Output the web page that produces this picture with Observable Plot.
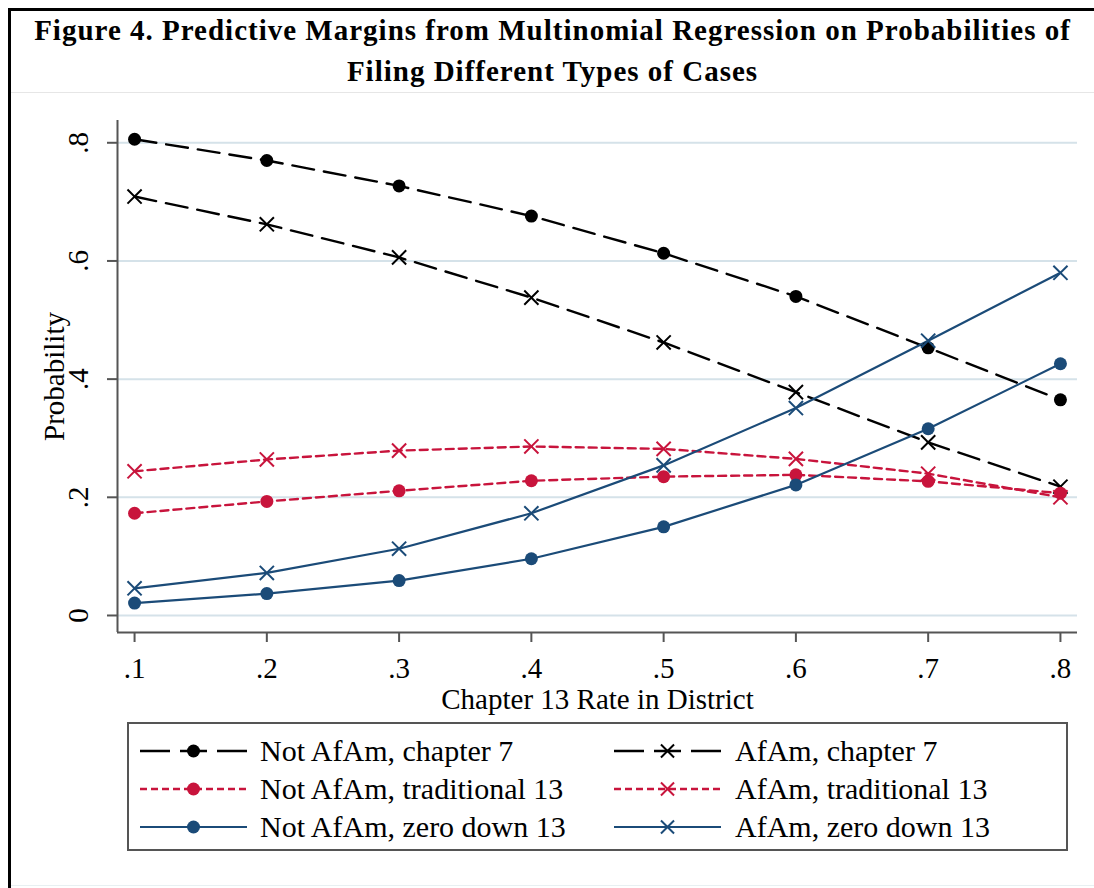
<!DOCTYPE html>
<html>
<head>
<meta charset="utf-8">
<script src="https://cdn.jsdelivr.net/npm/d3@7"></script>
<script src="https://cdn.jsdelivr.net/npm/@observablehq/plot@0.6"></script>
<style>
  html, body { margin: 0; padding: 0; background: #fff; }
  #wrap { position: relative; width: 1094px; height: 888px; overflow: hidden; font-family: "Liberation Serif", "Times New Roman", serif; color: #000; }
  #frame { position: absolute; left: 8px; top: 8px; right: -10px; bottom: -10px; border-left: 3px solid #000; border-top: 3px solid #000; }
  #sep { position: absolute; left: 11px; right: 0; top: 92px; height: 0; border-top: 1.5px solid #e6e6e6; }
  #bottomline { position: absolute; left: 11px; right: 0; top: 885px; height: 0; border-top: 1.5px solid #e8f0f2; }
  #title { position: absolute; left: 11px; width: 1083px; top: 10px; text-align: center; font-weight: bold; font-size: 29px; letter-spacing: 1px; line-height: 41px; white-space: nowrap; }
  #chart { position: absolute; left: 0; top: 95px; }
  #legend { position: absolute; left: 127px; top: 722px; width: 937px; height: 125px; border: 2px solid #555; }
  .item { position: absolute; display: flex; align-items: center; height: 36px; font-size: 30px; white-space: nowrap; }
  .item svg { display: block; }
</style>
</head>
<body>
<div id="wrap">
  <div id="frame"></div>
  <div id="sep"></div>
  <div id="bottomline"></div>
  <div id="title">Figure 4. Predictive Margins from Multinomial Regression on Probabilities of<br>Filing Different Types of Cases</div>
  <div id="chart"></div>
  <div id="legend"></div>
</div>
<script>
// ---- data ----
const rates = [0.1, 0.2, 0.3, 0.4, 0.5, 0.6, 0.7, 0.8];
const xTicks = [0.1, 0.2, 0.3, 0.4, 0.5, 0.6, 0.7, 0.8];
const yTicks = [0, 0.2, 0.4, 0.6, 0.8];
const seriesNames = [
  "Not AfAm, chapter 7",
  "AfAm, chapter 7",
  "Not AfAm, traditional 13",
  "AfAm, traditional 13",
  "Not AfAm, zero down 13",
  "AfAm, zero down 13"
];
const notAfAmCh7    = [0.806, 0.770, 0.727, 0.676, 0.613, 0.540, 0.453, 0.365];
const afAmCh7       = [0.709, 0.662, 0.606, 0.538, 0.462, 0.378, 0.293, 0.218];
const notAfAmTrad13 = [0.173, 0.193, 0.211, 0.228, 0.235, 0.238, 0.227, 0.207];
const afAmTrad13    = [0.244, 0.264, 0.279, 0.286, 0.282, 0.265, 0.240, 0.200];
const notAfAmZero13 = [0.021, 0.037, 0.059, 0.096, 0.150, 0.221, 0.316, 0.426];
const afAmZero13    = [0.046, 0.072, 0.113, 0.173, 0.254, 0.351, 0.465, 0.580];
const xLabel = "Chapter 13 Rate in District";
const yLabel = "Probability";

// ---- styles (separate from data) ----
const seriesValues = [notAfAmCh7, afAmCh7, notAfAmTrad13, afAmTrad13, notAfAmZero13, afAmZero13];
const styles = [
  {color: "#000000", dash: "22,10", legendDash: "30,10,27,10,30", symbol: "circle", width: 2.4},
  {color: "#000000", dash: "22,10", legendDash: "30,10,27,10,30", symbol: "times",  width: 2.4},
  {color: "#c8143c", dash: "8,5",   legendDash: "7,4", symbol: "circle", width: 2.4},
  {color: "#c8143c", dash: "8,5",   legendDash: "7,4", symbol: "times",  width: 2.4},
  {color: "#1b4b78", dash: null,    legendDash: null,  symbol: "circle", width: 2.2},
  {color: "#1b4b78", dash: null,    legendDash: null,  symbol: "times",  width: 2.2}
];

const rows = seriesNames.map((name, k) => rates.map((r, i) => ({series: name, x: r, y: seriesValues[k][i]})));

const fmt = d => d === 0 ? "0" : d3.format(".1f")(d).replace(/^0/, "");

const marks = [
  Plot.ruleY(yTicks, {stroke: "#d5e2e9", strokeWidth: 2}),
  Plot.ruleX([0.0871], {stroke: "#555", strokeWidth: 2}),
  Plot.ruleY([-0.0288], {stroke: "#555", strokeWidth: 2}),
  Plot.axisX({ticks: xTicks, tickFormat: fmt, tickSize: 10, tickPadding: 15, label: null, stroke: "#555", strokeWidth: 2, fill: "#000", fontSize: 29}),
  Plot.axisY({ticks: yTicks, tickFormat: fmt, tickSize: 10, tickPadding: 20, tickRotate: -90, label: null, stroke: "#555", strokeWidth: 2, fill: "#000", fontSize: 29}),
  Plot.text([xLabel], {text: d => d, frameAnchor: "bottom", dy: 67, fontSize: 29, fill: "#000", lineAnchor: "middle"}),
  Plot.text([yLabel], {text: d => d, frameAnchor: "left", dx: -63, rotate: -90, fontSize: 29, fill: "#000", lineAnchor: "middle", textAnchor: "middle"})
];

rows.forEach((data, k) => {
  const s = styles[k];
  marks.push(Plot.line(data, {x: "x", y: "y", stroke: s.color, strokeWidth: s.width, strokeDasharray: s.dash || undefined}));
});
rows.forEach((data, k) => {
  const s = styles[k];
  if (s.symbol === "circle") {
    marks.push(Plot.dot(data, {x: "x", y: "y", r: 6.5, fill: s.color, stroke: "none"}));
  } else {
    marks.push(Plot.dot(data, {x: "x", y: "y", r: 6.5, symbol: "times", stroke: s.color, strokeWidth: 2}));
  }
});

const chart = Plot.plot({
  width: 1094,
  height: 620,
  marginLeft: 117,
  marginRight: 17,
  marginTop: 25,
  marginBottom: 83,
  style: {fontFamily: '"Liberation Serif", "Times New Roman", serif', fontSize: "29px", background: "transparent", color: "#000"},
  x: {domain: [0.0871, 0.8129], axis: null},
  y: {domain: [-0.0288, 0.8377], axis: null},
  marks
});
document.getElementById("chart").appendChild(chart);

// ---- legend ----
const legend = document.getElementById("legend");
const legendRowsY = [27, 65, 103];      // centers relative to legend box top
const colSymbolX = [11, 485];           // symbol left relative to legend box
const colTextX = [131, 606];
const symbolW = 107;
seriesNames.forEach((name, k) => {
  const s = styles[k];
  const row = Math.floor(k / 2), col = k % 2;
  const item = document.createElement("div");
  item.className = "item";
  item.style.left = colSymbolX[col] + "px";
  item.style.top = (legendRowsY[row] - 18) + "px";
  const svg = d3.create("svg").attr("width", symbolW).attr("height", 36);
  svg.append("line").attr("x1", 0).attr("x2", symbolW).attr("y1", 18).attr("y2", 18)
    .attr("stroke", s.color).attr("stroke-width", s.width)
    .attr("stroke-dasharray", s.legendDash);
  const cx = symbolW / 2;
  if (s.symbol === "circle") {
    svg.append("circle").attr("cx", cx).attr("cy", 18).attr("r", 6.5).attr("fill", s.color);
  } else {
    svg.append("path").attr("d", d3.symbol(d3.symbolTimes, Math.PI * 6 * 6)()).attr("transform", `translate(${cx},18)`)
      .attr("stroke", s.color).attr("stroke-width", 2).attr("fill", "none");
  }
  item.appendChild(svg.node());
  const span = document.createElement("span");
  span.textContent = name;
  span.style.position = "absolute";
  span.style.left = (colTextX[col] - colSymbolX[col]) + "px";
  span.style.top = "0px";
  span.style.lineHeight = "36px";
  item.appendChild(span);
  legend.appendChild(item);
});
</script>
</body>
</html>
